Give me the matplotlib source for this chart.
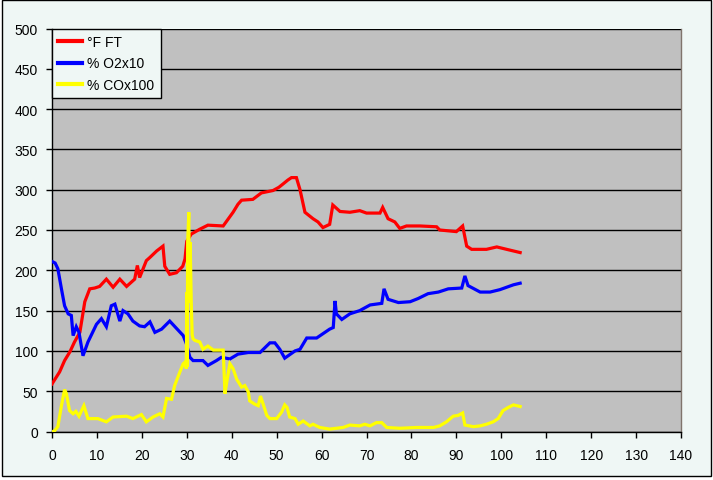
import matplotlib
matplotlib.use("Agg")
import matplotlib.pyplot as plt
from matplotlib.patches import Rectangle

# ---- data ----
red_x = [0, 1.7, 2.8, 4, 5, 6.2, 7.3, 8.4, 9.5, 10.6, 12.1, 13.6, 15.1, 16.6, 18.4, 19, 19.5, 21,
         21.8, 23.3, 24.7, 25.1, 26.2, 27.7, 29.1, 29.6, 30, 31, 32.9, 34.7, 38.1, 40.3, 41.4, 42.2,
         44.7, 46.6, 49.2, 50.5, 51.4, 52.5, 53.3, 54.4, 55.2, 56.3, 58.1, 59.2, 60.3, 61.8, 62.5,
         64.1, 66.3, 68.5, 70, 73, 73.6, 74.8, 76.3, 77.4, 78.9, 81.9, 85.6, 86.3, 90, 91.4, 92.3,
         93.4, 96.7, 99, 101.2, 104.2]
red_y = [59, 74, 88, 99, 111, 123, 161, 177, 178, 180, 189, 179, 189, 180, 189, 206, 191, 212,
         216, 224, 230, 205, 195, 197, 205, 214, 236, 245, 251, 256, 255, 272, 282, 287,
         288, 296, 299, 303, 307, 312, 315, 315, 300, 272, 264, 260, 253, 257, 281,
         273, 272, 274, 271, 271, 278, 264, 260, 252, 255, 255, 254, 250, 248, 255, 230,
         226, 226, 229, 226, 222]

blue_x = [0, 0.7, 1.3, 2.1, 2.8, 3.6, 4.3, 4.7, 5.4, 6, 6.9, 8, 9.9, 11, 12.1, 13.2, 14, 15.1,
          15.8, 16.9, 18, 19.5, 20.6, 21.8, 22.9, 24.4, 26.2, 29.2, 29.9, 30.7, 31.4, 33.6, 34.7,
          36.6, 37.7, 39.6, 41.4, 43.7, 46.3, 48.5, 49.6, 50.7, 51.8, 54.1, 55.2, 56.7, 58.9,
          61.8, 62.6, 63, 63.3, 64.5, 66.3, 68.5, 70.8, 73.4, 73.9, 74.8, 77.1, 79.7, 81.5, 83.7,
          86, 88.2, 91.2, 91.9, 92.6, 95.3, 97.5, 99.7, 102.7, 104.2]
blue_y = [211, 209, 202, 177, 156, 146, 144, 119, 130, 123, 94, 111, 133, 140, 130, 156, 158, 137,
          150, 146, 137, 131, 130, 136, 123, 127, 137, 119, 109, 92, 88, 88, 82,
          88, 92, 90, 96, 98, 98, 110, 110, 102, 91, 100, 102, 116, 116,
          127, 129, 162, 146, 139, 146, 150, 157, 159, 177, 164, 160, 161, 165, 171,
          173, 177, 178, 193, 181, 173, 173, 176, 182, 184]

yel_x = [0.2, 0.6, 1.3, 2.1, 2.8, 3.2, 3.9, 4.7, 5.3, 6, 7.1, 8, 10.2, 12.1, 13.6, 16.6, 18, 19.9,
         21, 22.5, 24, 24.7, 25.5, 26.6, 27.3, 28.4, 29.2, 29.6, 29.9, 30.0, 30.1, 30.2, 30.45,
         30.6, 30.75, 31.0, 31.2, 31.4, 31.8, 32.9, 33.6, 34.7, 35.9, 38.1, 38.5, 39, 39.6, 40.3,
         41.1, 42.2, 42.9, 43.7, 44, 45.1, 45.9, 46.4, 47, 47.8, 48.5, 50, 51.1, 51.8, 52.3, 52.9,
         54.1, 54.8, 55.9, 57.4, 58.1, 59.6, 61.8, 63.3, 64.8, 66.3, 68.5, 69.6, 70.8, 72.2, 73.4,
         74.5, 77.4, 81.2, 84.9, 86.3, 87.8, 89.3, 90.4, 91.4, 91.9, 93.8, 95.3, 96.7, 98.2, 99.3,
         100.4, 101.6, 102.7, 104.2]
yel_y = [0, 1, 6, 32, 52, 47, 26, 22, 25, 19, 32, 16, 16, 12, 18, 19, 16, 21,
         12, 18, 22, 18, 41, 40, 57, 73, 84, 86, 78, 173, 80, 235, 272,
         160, 235, 158, 120, 115, 113, 111, 102, 106, 101, 101, 47, 65, 84, 78,
         65, 55, 57, 49, 38, 34, 32, 44, 34, 20, 16, 16, 24, 33, 30, 18,
         16, 9, 13, 7, 9, 5, 3, 4, 5, 8, 7, 9, 7, 11, 11,
         5, 4, 5, 5, 7, 12, 19, 20, 23, 8, 6, 7, 9, 12, 16,
         26, 30, 33, 31]

series_labels = ["°F FT", "% O2x10", "% COx100"]
series_colors = ["#ff0000", "#0000ff", "#ffff00"]
x_ticks = list(range(0, 141, 10))
y_ticks = list(range(0, 501, 50))

# ---- figure ----
W, H = 713, 481
plt.rcParams["font.family"] = ["Liberation Sans", "DejaVu Sans"]
fig = plt.figure(figsize=(W / 100, H / 100), dpi=100, facecolor="white")

BG = "#eff7f5"
frame = Rectangle((2 / W, (H - 477) / H), 709 / W, 476 / H, transform=fig.transFigure,
                  facecolor=BG, edgecolor="black", linewidth=1.0, zorder=-5)
fig.patches.append(frame)

ax = fig.add_axes([52 / W, (H - 432.5) / H, (681 - 52) / W, (432.5 - 29.5) / H])
ax.set_zorder(5)
ax.set_facecolor("#c0c0c0")

for xs, ys, lab, col in zip([red_x, blue_x, yel_x], [red_y, blue_y, yel_y], series_labels, series_colors):
    ax.plot(xs, ys, color=col, linewidth=2.3, label=lab, solid_joinstyle="miter", zorder=3)

ax.set_xlim(0, 140)
ax.set_ylim(0, 500)
ax.set_xticks(x_ticks)
ax.set_yticks(y_ticks)
ax.yaxis.grid(True, color="black", linewidth=1.0)
ax.set_axisbelow(True)
ax.tick_params(axis="both", direction="out", length=4, width=1, color="black",
               labelsize=10, labelcolor="#000000", pad=8)
ax.tick_params(axis="y", pad=6)
for s in ["left", "bottom"]:
    ax.spines[s].set_color("black")
    ax.spines[s].set_linewidth(1.0)
ax.spines["top"].set_visible(False)
ax.spines["right"].set_color("#80746c")
ax.spines["right"].set_linewidth(1.0)

leg = ax.legend(loc="upper left", bbox_to_anchor=(0, 1), borderaxespad=0, fancybox=False,
                framealpha=1, facecolor=BG, edgecolor="black", fontsize=10,
                handlelength=1.7, handletextpad=0.4, labelspacing=0.55, borderpad=0.45)
leg.get_frame().set_linewidth(1.0)
for ln in leg.get_lines():
    ln.set_linewidth(3)

fig.savefig("out.png", dpi=100, facecolor="white")
